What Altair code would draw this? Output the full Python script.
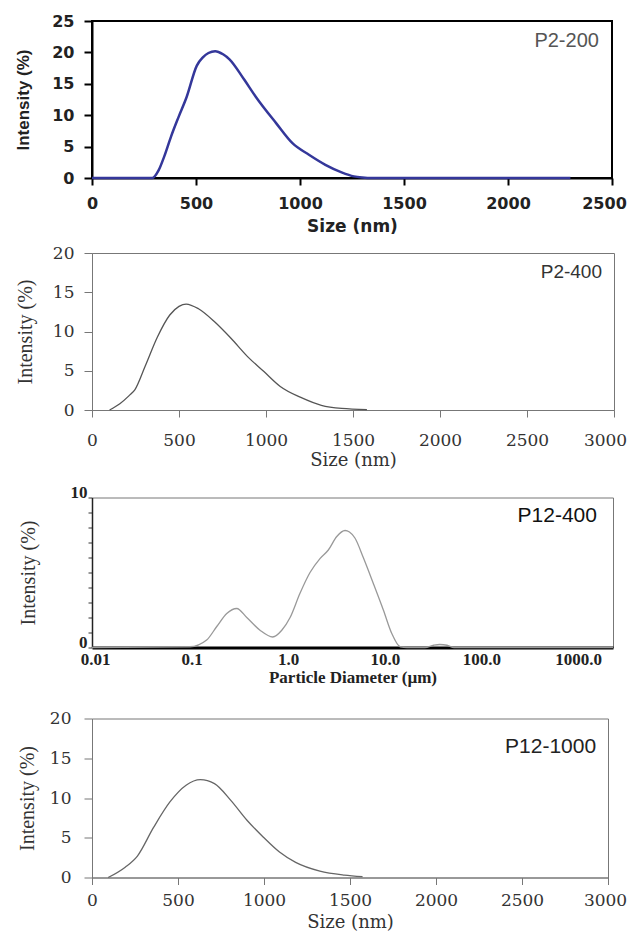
import altair as alt
import pandas as pd

# ---------------- data ----------------
# Panel 1 : P2-200
p1_size = [0, 290, 320, 347, 380, 416, 455, 504, 533, 560, 592, 630, 661, 729, 788, 886, 965, 1043, 1122, 1200, 1259, 1300, 1347, 2300]
p1_int = [0, 0, 1.2, 3.4, 6.6, 9.7, 12.9, 17.9, 19.2, 19.9, 20.2, 19.7, 18.9, 15.8, 12.9, 8.7, 5.5, 3.7, 2.1, 0.9, 0.26, 0.08, 0, 0]
p1_xticks = [0, 500, 1000, 1500, 2000, 2500]
p1_yticks = [0, 5, 10, 15, 20, 25]

# Panel 2 : P2-400
p2_size = [101, 160, 212, 247, 306, 376, 447, 500, 541, 612, 706, 800, 894, 988, 1082, 1200, 1318, 1435, 1580]
p2_int = [0, 0.8, 1.8, 2.6, 5.6, 9.3, 12.1, 13.2, 13.5, 12.9, 11.2, 9.1, 6.8, 4.9, 3.0, 1.6, 0.6, 0.2, 0.05]
p2_xticks = [0, 500, 1000, 1500, 2000, 2500, 3000]
p2_yticks = [0, 5, 10, 15, 20]

# Panel 3 : P12-400 (log scale)
p3_diam = [0.0093, 0.096, 0.143, 0.182, 0.231, 0.293, 0.372, 0.51, 0.69, 0.857, 1.045, 1.32, 1.68, 2.13, 2.6, 3.18, 3.87, 4.3, 4.9, 5.98, 7.6, 9.65, 11.8, 14.4, 17, 26, 32, 37, 44, 52, 2300]
p3_int = [0, 0.05, 0.5, 1.4, 2.27, 2.6, 2.0, 1.15, 0.7, 1.15, 2.0, 3.6, 5.0, 5.93, 6.5, 7.4, 7.8, 7.7, 7.3, 6.0, 4.27, 2.5, 0.93, 0.05, 0, 0, 0.15, 0.2, 0.15, 0, 0]
p3_xticks = [0.01, 0.1, 1, 10, 100, 1000]
p3_xlabels = ["0.01", "0.1", "1.0", "10.0", "100.0", "1000.0"]
p3_yticks = [0, 1, 2, 3, 4, 5, 6, 7, 8, 9, 10]
p3_ylabels = [0, 10]

# Panel 4 : P12-1000
p4_size = [94, 193, 264, 358, 453, 547, 630, 712, 807, 901, 995, 1090, 1184, 1325, 1467, 1573]
p4_int = [0, 1.3, 2.7, 6.3, 9.5, 11.6, 12.3, 11.8, 9.7, 7.2, 5.1, 3.2, 1.9, 0.8, 0.3, 0.1]
p4_xticks = [0, 500, 1000, 1500, 2000, 2500, 3000]
p4_yticks = [0, 5, 10, 15, 20]

# sample labels (text, x in data units, y in data units)
label_text = ["P2-200", "P2-400", "P12-400", "P12-1000"]
label_x = [2437, 2931, 1569, 2931]
label_y = [21.8, 17.6, 8.8, 16.4]

ytitle = "Intensity (%)"


def last_label_shift(last_value, shift):
    # nudge the right-most tick label inward so it stays inside the page
    return {"condition": {"test": "datum.value == %s" % last_value, "value": shift}, "value": 0}


# ---------------- panel 1 ----------------
df1 = pd.DataFrame({"size": p1_size, "intensity": p1_int})
lab1 = pd.DataFrame({"size": [label_x[0]], "intensity": [label_y[0]], "label": [label_text[0]]})
x1 = alt.X("size:Q", scale=alt.Scale(domain=[0, 2500], nice=False),
           axis=alt.Axis(values=p1_xticks, format="d", title="Size (nm)", grid=False,
                         domainColor="black", domainWidth=2, tickColor="black", tickWidth=2, tickSize=7,
                         labelFont="DejaVu Sans", labelFontWeight="bold", labelFontSize=16, labelColor="#222",
                         labelPadding=10, labelFlush=False, labelOverlap=False,
                         labelOffset=last_label_shift(p1_xticks[-1], -8),
                         titleFont="DejaVu Sans", titleFontWeight="bold", titleFontSize=17, titleColor="#222",
                         titlePadding=7))
y1 = alt.Y("intensity:Q", scale=alt.Scale(domain=[0, 25], nice=False),
           axis=alt.Axis(values=p1_yticks, title=ytitle, grid=False,
                         domainColor="black", domainWidth=2, tickColor="black", tickWidth=2, tickSize=8,
                         labelFont="DejaVu Sans", labelFontWeight="bold", labelFontSize=16, labelColor="#222",
                         labelPadding=10, labelOverlap=False,
                         titleFont="Liberation Sans", titleFontWeight="bold", titleFontSize=17, titleColor="#222",
                         titlePadding=19))
line1 = alt.Chart(df1).mark_line(color="#34379a", strokeWidth=2.5, interpolate="monotone").encode(x=x1, y=y1)
text1 = alt.Chart(lab1).mark_text(align="right", baseline="middle", font="Liberation Sans", fontSize=20,
                                  color="#555").encode(x=x1, y=y1, text="label:N")
p1 = alt.layer(line1, text1).properties(width=520, height=157,
                                        view=alt.ViewBackground(stroke="black", strokeWidth=2))


# ---------------- panels 2 & 4 (same style) ----------------
def size_panel(sizes, ints, xticks, yticks, idx, width, height, lab_pad, title_pad, ylab_pad, ytitle_pad,
               last_shift, line_color, text_size, text_color):
    df = pd.DataFrame({"size": sizes, "intensity": ints})
    lab = pd.DataFrame({"size": [label_x[idx]], "intensity": [label_y[idx]], "label": [label_text[idx]]})
    x = alt.X("size:Q", scale=alt.Scale(domain=[0, 3000], nice=False),
              axis=alt.Axis(values=xticks, format="d", title="Size (nm)", grid=False,
                            domainColor="#777", domainWidth=1, tickColor="#777", tickWidth=1, tickSize=7,
                            labelFont="DejaVu Serif", labelFontSize=17, labelColor="#333",
                            labelPadding=lab_pad, labelFlush=False, labelOverlap=False,
                            labelOffset=last_label_shift(xticks[-1], last_shift),
                            titleFont="DejaVu Serif", titleFontWeight="normal", titleFontSize=18,
                            titleColor="#333", titlePadding=title_pad))
    y = alt.Y("intensity:Q", scale=alt.Scale(domain=[0, 20], nice=False),
              axis=alt.Axis(values=yticks, title=ytitle, grid=False,
                            domainColor="#777", domainWidth=1, tickColor="#777", tickWidth=1, tickSize=8,
                            labelFont="DejaVu Serif", labelFontSize=17, labelColor="#333",
                            labelPadding=ylab_pad, labelOverlap=False,
                            titleFont="Liberation Serif", titleFontWeight="normal", titleFontSize=20,
                            titleColor="#333", titlePadding=ytitle_pad))
    line = alt.Chart(df).mark_line(color=line_color, strokeWidth=1.3, interpolate="monotone").encode(x=x, y=y)
    text = alt.Chart(lab).mark_text(align="right", baseline="middle", font="Liberation Sans",
                                    fontSize=text_size, color=text_color).encode(
        x=x, y=y, text="label:N")
    return alt.layer(line, text).properties(width=width, height=height,
                                            view=alt.ViewBackground(stroke="#777", strokeWidth=1))


p2 = size_panel(p2_size, p2_int, p2_xticks, p2_yticks, 1, 522, 157, 15, 3, 10, 17, -9, "#555", 19, "#333")
p4 = size_panel(p4_size, p4_int, p4_xticks, p4_yticks, 3, 516, 159, 8, 5, 13, 12, -3, "#666", 21, "#222")

# ---------------- panel 3 ----------------
df3 = pd.DataFrame({"diam": p3_diam, "intensity": p3_int})
lab3 = pd.DataFrame({"diam": [label_x[2]], "intensity": [label_y[2]], "label": [label_text[2]]})
xlab_expr = "[" + ",".join("'%s'" % s for s in p3_xlabels) + "][indexof([" + \
            ",".join(str(v) for v in p3_xticks) + "], datum.value)]"
ylab_expr = "indexof([" + ",".join(str(v) for v in p3_ylabels) + "], datum.value) >= 0 ? datum.label : ''"
x3 = alt.X("diam:Q", scale=alt.Scale(type="log", domain=[0.0093, 2300], nice=False),
           axis=alt.Axis(values=p3_xticks, labelExpr=xlab_expr, title="Particle Diameter (µm)", grid=False,
                         domainColor="black", domainWidth=3, ticks=False,
                         labelFont="Liberation Serif", labelFontWeight="bold", labelFontSize=17, labelColor="#222",
                         labelPadding=4, labelFlush=False, labelOverlap=False,
                         titleFont="Liberation Serif", titleFontWeight="bold", titleFontSize=17,
                         titleColor="#222", titlePadding=2))
y3 = alt.Y("intensity:Q", scale=alt.Scale(domain=[0, 10], nice=False),
           axis=alt.Axis(values=p3_yticks, labelExpr=ylab_expr, title=ytitle, grid=False,
                         domainColor="#222", domainWidth=1.5, tickColor="#333", tickWidth=1, tickSize=4,
                         labelFont="Liberation Serif", labelFontWeight="bold", labelFontSize=17, labelColor="#222",
                         labelPadding=1, labelOverlap=False, labelBaseline="alphabetic",
                         titleFont="Liberation Serif", titleFontWeight="normal", titleFontSize=20,
                         titleColor="#333", titlePadding=31.5))
line3 = alt.Chart(df3).mark_line(color="#999", strokeWidth=1.3, interpolate="monotone").encode(x=x3, y=y3)
text3 = alt.Chart(lab3).mark_text(align="right", baseline="middle", font="Liberation Sans", fontSize=21,
                                  color="#111").encode(x=x3, y=y3, text="label:N")
p3 = alt.layer(line3, text3).properties(width=521, height=150,
                                        view=alt.ViewBackground(stroke="#777", strokeWidth=1))

top = alt.vconcat(p1, p2, spacing=8)
bottom = alt.vconcat(p3, p4, spacing=22)
chart = alt.vconcat(top, bottom, spacing=12.5).properties(
    padding={"left": 5, "top": 4, "right": 0, "bottom": 0}
)

chart.save("out.html", embed_options={"renderer": "svg", "actions": False})
